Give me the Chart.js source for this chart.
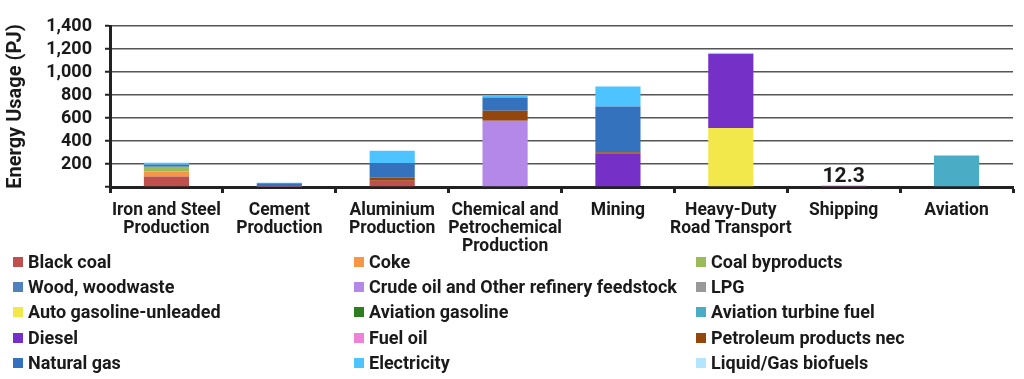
<!DOCTYPE html>
<html>
<head>
<meta charset="utf-8">
<script src="https://cdn.jsdelivr.net/npm/chart.js@4.4.1/dist/chart.umd.min.js"></script>
<style>
  html, body { margin: 0; padding: 0; background: #fff; }
  #wrap { position: relative; width: 1024px; height: 379px; overflow: hidden; font-family: Roboto, "Noto Sans", sans-serif; }
  #chartBox { position: absolute; left: 0; top: 0; width: 1024px; height: 260px; }
  .lg { position: absolute; font-weight: 700; font-size: 18px; color: #1a1a1a; white-space: nowrap; line-height: 20px; height: 20px; }
  .lg span.sw { position: absolute; left: 0; top: 5px; width: 10px; height: 10px; }
  .lg span.tx { position: absolute; left: 15px; top: 0; }
</style>
</head>
<body>
<div id="wrap">
  <div id="chartBox"><canvas id="c" width="1024" height="260"></canvas></div>
  <div id="legend"></div>
</div>
<script>
// ---- Data (PJ) ----
const categories = [
  ['Iron and Steel', 'Production'],
  ['Cement', 'Production'],
  ['Aluminium', 'Production'],
  ['Chemical and', 'Petrochemical', 'Production'],
  'Mining',
  ['Heavy-Duty', 'Road Transport'],
  'Shipping',
  'Aviation'
];
const yTicks = [0, 200, 400, 600, 800, 1000, 1200, 1400];

const blackCoal        = [91, 3, 54, 0, 0, 0, 0, 0];
const coke             = [43, 0, 0, 0, 0, 0, 0, 0];
const coalByproducts   = [43, 0, 0, 0, 0, 0, 0, 0];
const woodWoodwaste    = [0, 0, 0, 0, 0, 0, 0, 0];
const crudeOil         = [0, 0, 0, 576, 0, 0, 0, 0];
const lpg              = [0, 0, 0, 0, 0, 0, 0, 0];
const autoGasoline     = [0, 0, 0, 0, 0, 513, 0, 0];
const aviationGasoline = [0, 0, 0, 0, 0, 0, 0, 0];
const aviationTurbine  = [0, 0, 0, 0, 0, 0, 0, 273];
const diesel           = [0, 0, 0, 0, 293, 646, 0, 0];
const fuelOil          = [0, 0, 0, 0, 0, 0, 12.3, 0];
const petroleumNec     = [0, 0, 26, 87, 9, 0, 0, 0];
const naturalGas       = [17, 30, 126, 115, 398, 0, 0, 0];
const electricity      = [17, 4, 110, 15, 173, 0, 0, 0];
const biofuels         = [0, 0, 0, 0, 0, 9, 0, 0];

const labelledCategories = [6]; // categories whose total is annotated

const seriesNames = [
  'Black coal', 'Coke', 'Coal byproducts',
  'Wood, woodwaste', 'Crude oil and Other refinery feedstock', 'LPG',
  'Auto gasoline-unleaded', 'Aviation gasoline', 'Aviation turbine fuel',
  'Diesel', 'Fuel oil', 'Petroleum products nec',
  'Natural gas', 'Electricity', 'Liquid/Gas biofuels'
];
const seriesData = [
  blackCoal, coke, coalByproducts,
  woodWoodwaste, crudeOil, lpg,
  autoGasoline, aviationGasoline, aviationTurbine,
  diesel, fuelOil, petroleumNec,
  naturalGas, electricity, biofuels
];
const seriesColors = [
  '#C0504D', '#F79646', '#9BBB59',
  '#4F81BD', '#B388E8', '#999999',
  '#F2E84B', '#2E7D1E', '#4BACC6',
  '#7530C8', '#EE82D8', '#93470C',
  '#3572BE', '#4DC3FF', '#B3E5FC'
];

const datasets = seriesNames.map((n, i) => ({
  label: n,
  data: seriesData[i],
  backgroundColor: seriesColors[i],
  borderWidth: 0,
  barPercentage: 0.4,
  categoryPercentage: 1.0
}));

const totalLabelPlugin = {
  id: 'totalLabel',
  afterDatasetsDraw(chart) {
    const ctx = chart.ctx;
    const xs = chart.scales.x, ys = chart.scales.y;
    labelledCategories.forEach(ci => {
      let total = 0;
      seriesData.forEach(arr => { total += arr[ci] || 0; });
      const x = xs.getPixelForValue(ci);
      const y = ys.getPixelForValue(total) - 4;
      ctx.save();
      ctx.font = 'bold 21px Roboto, "Noto Sans", sans-serif';
      ctx.fillStyle = '#1a1a1a';
      ctx.textAlign = 'center';
      ctx.textBaseline = 'alphabetic';
      ctx.fillText(total.toFixed(1), x, y);
      ctx.restore();
    });
  }
};

new Chart(document.getElementById('c'), {
  type: 'bar',
  data: { labels: categories, datasets },
  plugins: [totalLabelPlugin],
  options: {
    responsive: false,
    animation: false,
    layout: { padding: { top: 26, right: 11, left: 0, bottom: 0 } },
    plugins: { legend: { display: false }, tooltip: { enabled: false } },
    scales: {
      x: {
        stacked: true,
        afterFit(s) { s.height = 73; },
        grid: { display: true, drawOnChartArea: false, drawTicks: true, tickLength: 6, tickColor: '#222', tickWidth: 3, offset: true },
        border: { display: true, color: '#222', width: 3 },
        ticks: {
          autoSkip: false, maxRotation: 0, minRotation: 0, padding: 9,
          color: '#1a1a1a',
          font: { family: 'Roboto', weight: 'bold', size: 17.5, lineHeight: 1.03 }
        }
      },
      y: {
        stacked: true,
        min: 0, max: 1400,
        afterFit(s) { s.width = 110; },
        afterBuildTicks(s) { s.ticks = yTicks.map(v => ({ value: v })); },
        grid: { color: '#555', lineWidth: 1.5, tickLength: 5, tickColor: '#222', tickWidth: 2 },
        border: { display: true, color: '#222', width: 3 },
        ticks: {
          autoSkip: false,
          padding: 13,
          color: '#1a1a1a',
          font: { family: 'Roboto', weight: 'bold', size: 18 },
          callback: v => v === 0 ? '' : v.toLocaleString('en-US')
        },
        title: {
          display: true, text: 'Energy Usage (PJ)', color: '#1a1a1a',
          font: { family: 'Roboto', weight: 'bold', size: 20, lineHeight: 1.2 },
          padding: { top: 4, bottom: 0 }
        }
      }
    }
  }
});

// ---- HTML legend (3 columns, row-major) ----
const legendCols = [13, 354, 696];
const legendRowTop = 252;
const legendRowStep = 25.2;
const lg = document.getElementById('legend');
seriesNames.forEach((n, i) => {
  const d = document.createElement('div');
  d.className = 'lg';
  d.style.left = legendCols[i % 3] + 'px';
  d.style.top = (legendRowTop + Math.floor(i / 3) * legendRowStep) + 'px';
  const sw = document.createElement('span');
  sw.className = 'sw';
  sw.style.background = seriesColors[i];
  const tx = document.createElement('span');
  tx.className = 'tx';
  tx.textContent = n;
  d.appendChild(sw); d.appendChild(tx);
  lg.appendChild(d);
});
</script>
</body>
</html>
